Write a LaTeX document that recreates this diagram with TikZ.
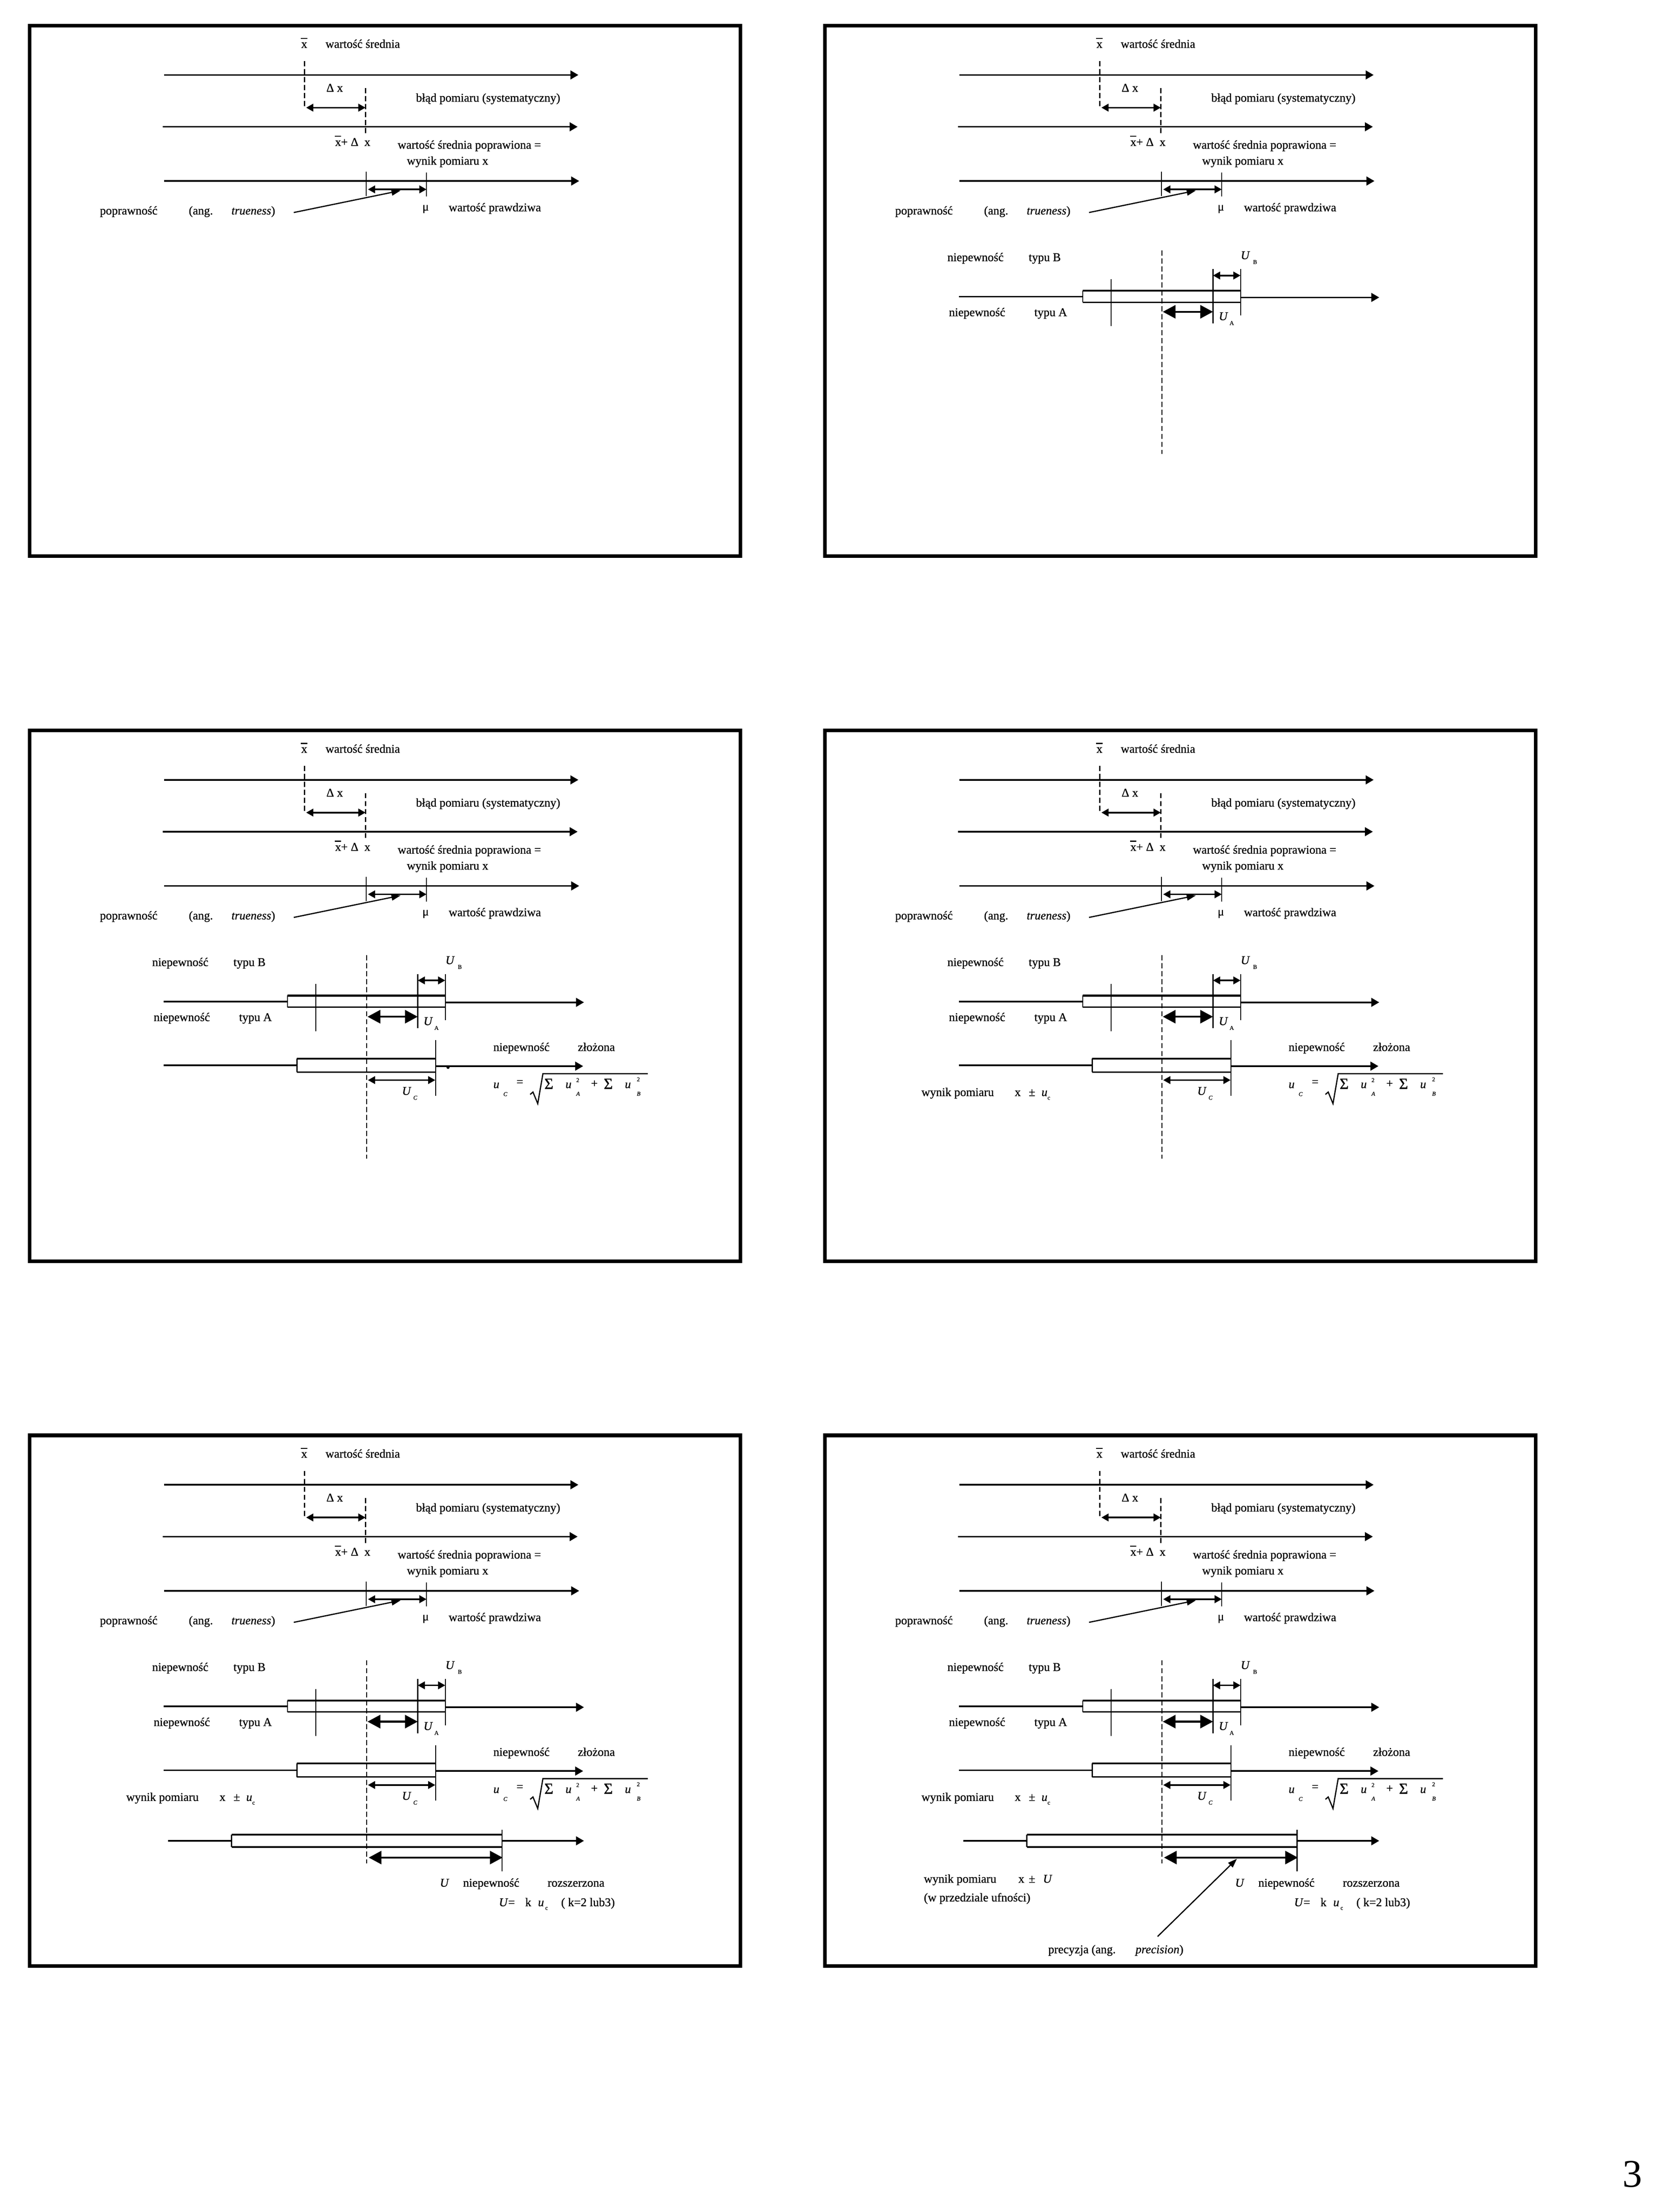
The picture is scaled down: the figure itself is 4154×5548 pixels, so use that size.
\documentclass[tikz,border=0pt]{standalone}
\usepackage{fontspec}
\setmainfont{Liberation Serif}
\usetikzlibrary{arrows.meta}

\begin{document}
\begin{tikzpicture}[x=0.1mm,y=-0.1mm,
  opis/.style={inner sep=0pt,anchor=base west,font=\fontsize{8.5}{10}\selectfont\addfontfeature{FakeBold=0.8}},
  indeks/.style={inner sep=0pt,anchor=base west,font=\fontsize{4.2}{5}\selectfont\addfontfeature{FakeBold=1}},
  suma/.style={inner sep=0pt,anchor=base west,font=\fontsize{11}{12}\selectfont\addfontfeature{FakeBold=1}},
  ramka/.style={line width=0.9mm},
  os/.style={line width=0.4mm,-{Triangle[length=2mm,width=2.2mm]}},
  linia/.style={line width=0.4mm},
  kreska/.style={line width=0.25mm,dash pattern=on 1.3mm off 0.7mm},
  pion/.style={line width=0.25mm},
  dwustr/.style={line width=0.4mm,{Triangle[length=1.8mm,width=1.9mm]}-{Triangle[length=1.8mm,width=1.9mm]}},
  dwustrduza/.style={line width=0.5mm,{Triangle[length=3.2mm,width=3.3mm]}-{Triangle[length=3.2mm,width=3.3mm]}},
  wskaz/.style={line width=0.3mm,-{Triangle[length=2.3mm,width=1.6mm]}}]

\fill[white] (0,0) rectangle (4154,5548);
\useasboundingbox (0,0) rectangle (4154,5548);

%czesc wspolna wszystkich slajdow
\foreach \px/\py [count=\p] in {74/64,2069/64,74/1832,2069/1832,74/3600,2069/3600}{
  \begin{scope}[shift={(\px,\py)}]
    \draw[ramka] (0,0) rectangle (1783,1331); %ramka slajdu

    %wartosc srednia
    \node[opis] (xs\p) at (681,56) {x};
    \draw[pion] (xs\p.north west) ++(0,-9) -- ++(16,0);
    \node[opis] (srednia\p) at (742,56) {wartość średnia};
    \draw[os] (338,124) -- (1377,124);
    \draw[kreska] (690,89) -- (690,207);

    %blad systematyczny
    \node[opis] (dx\p) at (744,166) {Δ x};
    \draw[kreska] (843,157) -- (843,276);
    \draw[dwustr] (694,206) -- (843,206);
    \node[opis] (blad\p) at (969,191) {błąd pomiaru (systematyczny)};
    \draw[os] (334,254) -- (1375,254);

    %wartosc poprawiona
    \node[opis] (xp\p) at (766,302) {x+ Δ\hspace{0.5em}x};
    \draw[pion] (xp\p.base west) ++(0,-24) -- ++(16,0);
    \node[opis] (popr\p) at (923,309) {wartość średnia poprawiona =};
    \node[opis] (wynik\p) at (946,349) {wynik pomiaru x};
    \draw[os] (338,390) -- (1379,390);
    \draw[pion] (845,367) -- (845,428);
    \draw[pion] (996,369) -- (996,429);
    \draw[dwustr] (849,411) -- (996,411);

    %poprawnosc
    \node[opis] (poprawnosc\p) at (176,474) {poprawność};
    \node[opis] (ang\p) at (399,474) {(ang.};
    \node[opis] (trueness\p) at (506,474) {\textit{trueness})};
    \draw[wskaz] (663,469) -- (931,414);
    \node[opis] (mu\p) at (985,464) {μ};
    \node[opis] (prawdziwa\p) at (1051,466) {wartość prawdziwa};
  \end{scope}
}

%niepewnosc typu A i B
\foreach \px/\py [count=\p from 2] in {2069/64,74/1832,2069/1832,74/3600,2069/3600}{
  \begin{scope}[shift={(\px,\py)}]
    \node[opis] (niepB\p) at (307,591) {niepewność};
    \node[opis] (typB\p) at (511,591) {typu B};
    \node[opis] (uB\p) at (1043,586) {\textit{U}};
    \node[indeks] (uBi\p) at (1074,598) {B};
    \draw[kreska] (846,564) -- (846,1074); %linia wyniku

    \draw[linia] (337,680) -- (647,680);
    \draw[pion] (647,665) -- (647,694);
    \draw[line width=0.5mm] (647,665) -- (1043,665);
    \draw[line width=0.35mm] (647,694) -- (1043,694);
    \draw[os] (1043,682) -- (1391,682);
    \draw[pion] (718,636) -- (718,754);
    \draw[pion] (974,611) -- (974,747);
    \draw[pion] (1043,611) -- (1043,727);
    \draw[dwustr] (974,627) -- (1043,627);
    \draw[dwustrduza] (848,718) -- (974,718);

    \node[opis] (uA\p) at (988,739) {\textit{U}};
    \node[indeks] (uAi\p) at (1015,751) {A};
    \node[opis] (niepA\p) at (311,729) {niepewność};
    \node[opis] (typA\p) at (525,729) {typu A};
  \end{scope}
}

%niepewnosc zlozona
\foreach \px/\py [count=\p from 3] in {74/1832,2069/1832,74/3600,2069/3600}{
  \begin{scope}[shift={(\px,\py)}]
    \draw[pion] (1019,777) -- (1019,916);
    \node[opis] (niepC\p) at (1163,804) {niepewność};
    \node[opis] (zlozona\p) at (1375,804) {złożona};

    \draw[linia] (337,840) -- (671,840);
    \draw[pion] (671,823) -- (671,857);
    \draw[line width=0.5mm] (671,823) -- (1019,823);
    \draw[line width=0.35mm] (671,857) -- (1019,857);
    \draw[os] (1019,842) -- (1389,842);
    \draw[dwustr] (849,877) -- (1018,877);
    \node[opis] (uC\p) at (934,914) {\textit{U}};
    \node[indeks] (uCi\p) at (962,926) {\textit{C}};

    %wzor na u_c
    \node[opis] (wu\p) at (1163,897) {\textit{u}};
    \node[indeks] (wui\p) at (1188,917) {\textit{C}};
    \node[opis] (wr\p) at (1221,891) {=};
    \draw[line width=0.3mm] (1256,913) -- (1263,907) -- (1275,936) -- (1288,861) -- (1551,861);
    \node[suma] (sa\p) at (1291,899) {Σ};
    \node[opis] (wa\p) at (1344,897) {\textit{u}};
    \node[indeks] (wa2\p) at (1371,882) {2};
    \node[indeks] (wai\p) at (1371,916) {\textit{A}};
    \node[opis] (plus\p) at (1408,895) {+};
    \node[suma] (sb\p) at (1440,899) {Σ};
    \node[opis] (wb\p) at (1493,897) {\textit{u}};
    \node[indeks] (wb2\p) at (1523,880) {2};
    \node[indeks] (wbi\p) at (1523,916) {\textit{B}};
  \end{scope}
}

\fill (74,1832) ++(1050,845) circle (4); %kropka

%wynik z niepewnoscia zlozona
\foreach \px/\py [count=\p from 4] in {2069/1832,74/3600,2069/3600}{
  \begin{scope}[shift={(\px,\py)}]
    \node[opis] (wyn\p) at (242,917) {wynik pomiaru};
    \node[opis] (wx\p) at (476,917) {x};
    \node[opis] (wpm\p) at (511,917) {±};
    \node[opis] (wuc\p) at (543,917) {\textit{u}};
    \node[indeks] (wuci\p) at (558,926) {c};
  \end{scope}
}

%niepewnosc rozszerzona
\foreach \px/\py [count=\p from 5] in {74/3600,2069/3600}{
  \begin{scope}[shift={(\px,\py)}]
    \draw[linia] (348,1017) -- (507,1017);
    \draw[pion] (507,1001) -- (507,1032);
    \draw[line width=0.45mm] (507,1001) -- (1185,1001);
    \draw[line width=0.45mm] (507,1032) -- (1185,1032);
    \draw[os] (1185,1017) -- (1391,1017);
    \draw[pion] (1185,989) -- (1185,1094);
    \draw[dwustrduza] (851,1059) -- (1187,1059);

    \node[opis] (ur\p) at (1029,1132) {\textit{U}};
    \node[opis] (niepU\p) at (1087,1132) {niepewność};
    \node[opis] (rozsz\p) at (1299,1132) {rozszerzona};
    \node[opis] (uk\p) at (1177,1181) {\textit{U}=};
    \node[opis] (k\p) at (1243,1181) {k};
    \node[opis] (ku\p) at (1275,1181) {\textit{u}};
    \node[indeks] (kui\p) at (1293,1190) {c};
    \node[opis] (kk\p) at (1333,1181) {( k=2 lub3)};
  \end{scope}
}

%precyzja - ostatni slajd
\begin{scope}[shift={(2069,3600)}]
  \node[opis] (wynU) at (248,1122) {wynik pomiaru};
  \node[opis] (wxU) at (485,1122) {x};
  \node[opis] (wpmU) at (511,1122) {±};
  \node[opis] (wUU) at (547,1122) {\textit{U}};
  \node[opis] (przedz) at (248,1169) {(w przedziale ufności)};
  \draw[wskaz] (835,1257) -- (1034,1062);
  \node[opis] (precyzja) at (560,1299) {precyzja (ang.};
  \node[opis] (precision) at (779,1299) {\textit{precision})};
\end{scope}

\node[anchor=base west,inner sep=0pt,font=\fontsize{28}{30}\selectfont] (strona) at (4070,5485) {3}; %numer strony
\end{tikzpicture}
\end{document}
